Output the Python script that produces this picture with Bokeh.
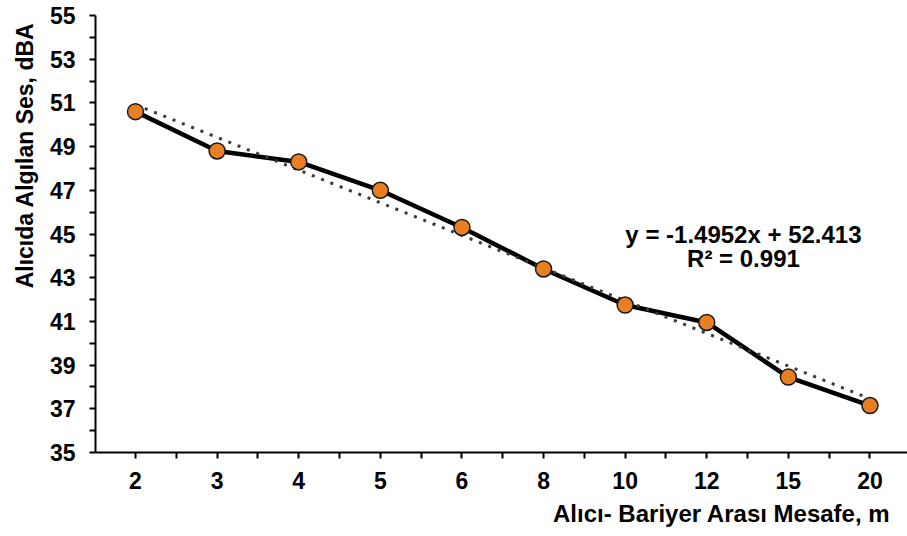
from bokeh.plotting import figure
from bokeh.models import Range1d, FixedTicker, Label, ColumnDataSource, Title
from bokeh.embed import file_html
from bokeh.resources import INLINE

# ---- data ----
distances = ["2", "3", "4", "5", "6", "8", "10", "12", "15", "20"]
noise_dba = [50.6, 48.8, 48.3, 47.0, 45.3, 43.4, 41.75, 40.95, 38.45, 37.15]
trend_slope = -1.4952
trend_intercept = 52.413
r_squared = 0.991
y_tick_values = [35, 37, 39, 41, 43, 45, 47, 49, 51, 53, 55]
y_minor_values = [36, 38, 40, 42, 44, 46, 48, 50, 52, 54]
x_title = "Alıcı- Bariyer Arası Mesafe, m"
y_title = "Alıcıda Algılan Ses, dBA"

idx = list(range(1, len(distances) + 1))
trend_x = [idx[0], idx[-1]]
trend_y = [trend_slope * x + trend_intercept for x in trend_x]

FONT = "Liberation Sans"

p = figure(width=907, height=536, output_backend="svg", toolbar_location=None,
           x_range=Range1d(0.51, 10.46), y_range=Range1d(35, 55),
           min_border_left=95, min_border_right=0, min_border_top=15,
           min_border_bottom=84)
p.outline_line_color = None
p.grid.visible = False
p.background_fill_color = "white"
p.border_fill_color = "white"

src = ColumnDataSource(dict(x=idx, y=noise_dba))
p.line("x", "y", source=src, line_color="black", line_width=4.5)
p.line(trend_x, trend_y, line_color="#3a3a3a", line_width=3, line_dash="3 7")
p.scatter("x", "y", source=src, size=16, marker="circle",
          fill_color="#E97E22", line_color="#1a1a1a", line_width=1.5)

# x axis
xa = p.xaxis[0]
xa.ticker = FixedTicker(ticks=idx, minor_ticks=[i - 0.5 for i in idx] + [idx[-1] + 0.5])
xa.major_label_overrides = {i: d for i, d in zip(idx, distances)}
xa.axis_line_width = 2
xa.axis_line_color = "black"
xa.major_tick_line_width = 2
xa.minor_tick_line_width = 2
xa.major_tick_out = 6
xa.major_tick_in = 0
xa.minor_tick_out = 6
xa.minor_tick_in = 0
xa.major_label_standoff = 13
xa.major_label_text_font = FONT
xa.major_label_text_font_style = "bold"
xa.major_label_text_font_size = "23px"
xa.major_label_text_color = "black"

# y axis
ya = p.yaxis[0]
ya.ticker = FixedTicker(ticks=y_tick_values, minor_ticks=y_minor_values)
ya.axis_line_width = 2
ya.axis_line_color = "black"
ya.major_tick_line_width = 2
ya.minor_tick_line_width = 2
ya.major_tick_out = 6
ya.major_tick_in = 0
ya.minor_tick_out = 6
ya.minor_tick_in = 0
ya.major_label_standoff = 14
ya.major_label_text_font = FONT
ya.major_label_text_font_style = "bold"
ya.major_label_text_font_size = "23px"
ya.major_label_text_color = "black"

# axis titles as side titles
p.add_layout(Title(text=y_title, align="right", offset=7, standoff=18,
                   text_font=FONT, text_font_style="bold", text_font_size="23px",
                   text_color="black"), "left")
p.add_layout(Title(text=x_title, align="right", offset=17, standoff=12,
                   text_font=FONT, text_font_style="bold", text_font_size="24px",
                   text_color="black"), "below")

# trendline equation
eq_x = 8.45
p.add_layout(Label(x=eq_x, y=45.0, text=f"y = {trend_slope}x + {trend_intercept}",
                   text_align="center", text_baseline="middle",
                   text_font=FONT, text_font_style="bold", text_font_size="24px",
                   text_color="black"))
p.add_layout(Label(x=eq_x, y=43.88, text=f"R² = {r_squared}",
                   text_align="center", text_baseline="middle",
                   text_font=FONT, text_font_style="bold", text_font_size="24px",
                   text_color="black"))

open("out.html", "w").write(file_html(p, INLINE))
